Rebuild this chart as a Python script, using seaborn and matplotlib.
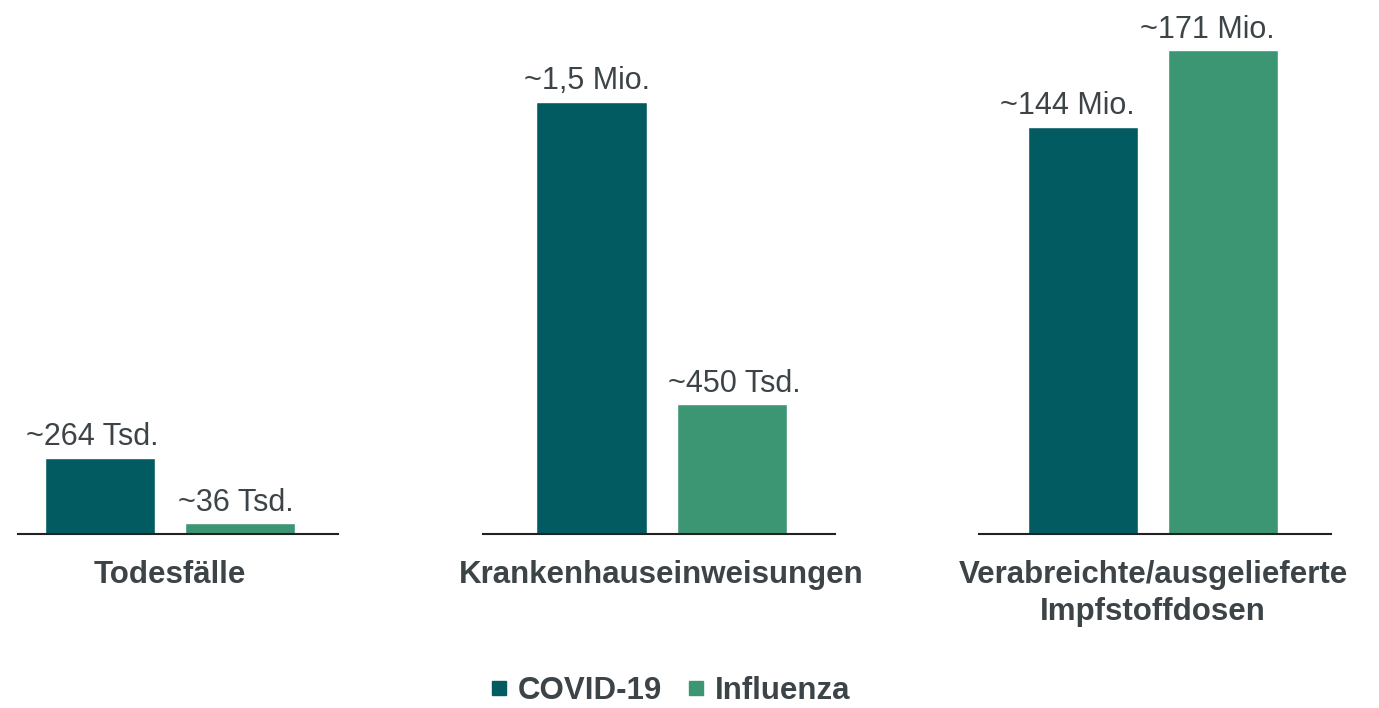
import matplotlib
matplotlib.use("Agg")
import matplotlib.pyplot as plt
from matplotlib.lines import Line2D
import seaborn as sns
import pandas as pd

# data (panels 1-2 in Tsd., panel 3 in Mio.)
kategorien = ["Todesfälle", "Krankenhauseinweisungen", "Verabreichte/ausgelieferte\nImpfstoffdosen"]
serien = ["COVID-19", "Influenza"]
covid_werte = [264, 1500, 144]
influenza_werte = [36, 450, 171]
covid_labels = ["~264 Tsd.", "~1,5 Mio.", "~144 Mio."]
influenza_labels = ["~36 Tsd.", "~450 Tsd.", "~171 Mio."]

farben = {"COVID-19": "#035b62", "Influenza": "#3d9673"}
text_farbe = "#3d4448"

sns.set_theme(style="white")
plt.rcParams["font.family"] = ["Liberation Sans", "DejaVu Sans"]

rows = []
for i, kat in enumerate(kategorien):
    rows.append({"panel": i, "serie": "COVID-19", "wert": covid_werte[i]})
    rows.append({"panel": i, "serie": "Influenza", "wert": influenza_werte[i]})
df = pd.DataFrame(rows)

fig = plt.figure(figsize=(13.79, 7.08), dpi=100, facecolor="white")

# layout in pixels: (left, width), xlim
W, H = 1379, 708
panel_pos = [(18, 320), (483, 352), (979, 352)]
panel_xlim = [(-0.586, 1.70), (-0.775, 1.739), (-0.743, 1.771)]
ylims = [1736, 1736, 176.9]
# small horizontal nudges of the value labels (px)
label_dx = [(-8, -4), (-5, 3), (-16, -16)]
base_px = 533.7
ax_h = 500

for i, kat in enumerate(kategorien):
    left, width = panel_pos[i]
    ax = fig.add_axes([left / W, (H - base_px) / H, width / W, ax_h / H])
    sub = df[df["panel"] == i]
    sns.barplot(data=sub, x="serie", y="wert", hue="serie", order=serien,
                hue_order=serien, palette=farben, width=0.786, ax=ax,
                legend=False, saturation=1)
    ax.set_xlim(*panel_xlim[i])
    ax.set_ylim(0, ylims[i])
    labs = [covid_labels[i], influenza_labels[i]]
    for j, cont in enumerate(ax.containers):
        bar = cont.patches[0]
        ax.annotate(labs[j], (bar.get_x() + bar.get_width() / 2, bar.get_height()),
                    xytext=(label_dx[i][j] * 0.72, 4), textcoords="offset points",
                    ha="center", va="bottom", fontsize=22, color=text_farbe,
                    annotation_clip=False)
    for s in ["top", "left", "right"]:
        ax.spines[s].set_visible(False)
    ax.spines["bottom"].set_color("#222222")
    ax.spines["bottom"].set_linewidth(1.5)
    ax.set_yticks([])
    ax.set_xticks([0.5])
    ax.set_xticklabels([kat], fontsize=22.5, fontweight="bold", color=text_farbe,
                       linespacing=1.3)
    ax.tick_params(axis="x", length=0, pad=19)
    ax.set_xlabel("")
    ax.set_ylabel("")
    ax.patch.set_alpha(0)

handles = [Line2D([], [], marker="s", linestyle="", markersize=10.5, color=farben[s])
           for s in serien]
leg = fig.legend(handles, serien, loc="center", bbox_to_anchor=(668.5 / W, 1 - 691 / H),
                 ncol=2, frameon=False, handletextpad=0.2, columnspacing=0.68,
                 handlelength=0.8, borderpad=0.2, prop={"size": 22.5, "weight": "bold"})
for t in leg.get_texts():
    t.set_color(text_farbe)

fig.savefig("out.png", dpi=100, facecolor="white")
